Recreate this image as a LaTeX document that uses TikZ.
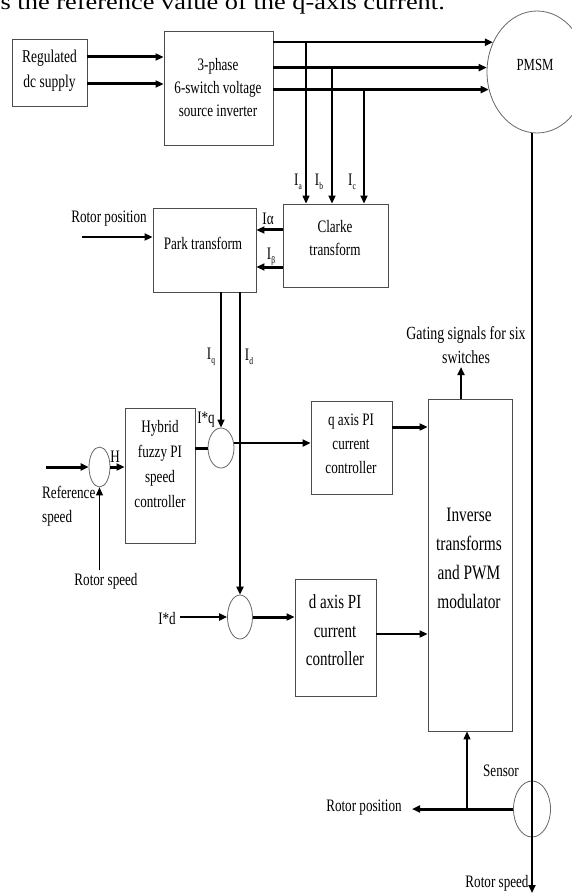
\documentclass[tikz,border=0pt]{standalone}
\usepackage{fontspec}
\setmainfont[FakeStretch=0.75]{Liberation Serif}
\newfontfamily\topfont[FakeStretch=1.2]{Liberation Serif}
\usetikzlibrary{arrows.meta,shapes.geometric}
\newcommand\fsz[2]{\fontsize{#1}{#2}\selectfont}
\newcommand\lsub[1]{\raisebox{-0.45ex}{\fontsize{10}{10}\selectfont #1}}
\begin{document}
\begin{tikzpicture}[x=1pt,y=-1pt,
  box/.style={draw=black!70, line width=0.9pt, rectangle, inner sep=0},
  sumc/.style={draw=black!60, line width=0.8pt, ellipse, inner sep=0},
  txt/.style={inner sep=0, align=center, font=\fsz{17.5}{24}},
  tip/.style={-{Triangle[length=8pt,width=7pt]}},
  heavy/.style={line width=3pt},
  med/.style={line width=2pt},
  thinl/.style={line width=1.3pt},
]
\useasboundingbox (0,0) rectangle (572,893);
\clip (0,0) rectangle (572,893);

% top caption fragment
\node[inner sep=0, anchor=base east, font=\topfont\fsz{22}{22}] (cap) at (445,10) {s the reference value of the q-axis current.};

% boxes
\node[box, minimum width=75pt, minimum height=67pt] (reg) at (49.5,72.5) {};
\node[txt, font=\fsz{18}{25}] (regt) at (49.5,70.5) {Regulated\\dc supply};
\node[box, minimum width=109pt, minimum height=114pt] (inv) at (218.5,88) {};
\node[txt, font=\fsz{17.5}{23}] (invt) at (218,88) {3-phase\\6-switch voltage\\source inverter};
\node[sumc, minimum width=100pt, minimum height=122pt] (pmsm) at (537,72) {};
\node[txt, font=\fsz{17}{20}] (pmsmt) at (535,65) {PMSM};
\node[box, minimum width=105pt, minimum height=83pt] (clarke) at (335.5,245.5) {};
\node[txt, font=\fsz{17.5}{23}] (clarket) at (335,238.5) {Clarke\\transform};
\node[box, minimum width=103pt, minimum height=84pt] (park) at (204.5,250) {};
\node[txt] (parkt) at (203,243) {Park transform};
\node[box, minimum width=70pt, minimum height=135pt] (hybrid) at (160,475.5) {};
\node[txt, font=\fsz{17.5}{24.7}] (hybridt) at (160,464) {Hybrid\\fuzzy PI\\speed\\controller};
\node[box, minimum width=81pt, minimum height=93pt] (qpi) at (351.5,447.5) {};
\node[txt] (qpit) at (351,444) {q axis PI\\current\\controller};
\node[box, minimum width=81pt, minimum height=117pt] (dpi) at (335.5,637.5) {};
\node[txt, font=\fsz{20}{28.5}] (dpit) at (335,630.5) {d axis PI\\current\\controller};
\node[box, minimum width=84pt, minimum height=332pt] (itr) at (470,565) {};
\node[txt, font=\fsz{20.5}{29}] (itrt) at (469,558.5) {Inverse\\transforms\\and PWM\\modulator};

% summing junctions and sensor
\node[sumc, minimum width=26pt, minimum height=40pt] (qsum) at (221,448) {};
\node[sumc, minimum width=21pt, minimum height=40pt] (hsum) at (99.5,467) {};
\node[sumc, minimum width=25pt, minimum height=44pt] (dsum) at (240,617) {};
\node[sumc, minimum width=37pt, minimum height=56pt] (sensor) at (532,809) {};

% free ends
\coordinate (rpin) at (82,237);
\coordinate (gt) at (461,367);
\coordinate (refin) at (46,467);
\coordinate (rsin) at (99.5,570);
\coordinate (idin) at (180,617);
\coordinate (rsout) at (532,893);
\coordinate (rpout) at (412,809);

% supply to inverter
\draw[heavy,tip] ([yshift=15.5pt]reg.east) -- ([yshift=15.5pt]reg.east -| inv.west);
\draw[heavy,tip] ([yshift=-11.5pt]reg.east) -- ([yshift=-11.5pt]reg.east -| inv.west);

% inverter to PMSM
\draw[med,tip] (pmsm.146.6 -| inv.east) -- (pmsm.146.6);
\draw[heavy,tip] (pmsm.175.4 -| inv.east) -- (pmsm.175.4);
\draw[heavy,tip] (pmsm.200.6 -| inv.east) -- (pmsm.200.6);

% current taps
\coordinate (ta) at ([xshift=-29.5pt]clarke.north);
\coordinate (tb) at ([xshift=-3.5pt]clarke.north);
\coordinate (tc) at ([xshift=28.5pt]clarke.north);
\draw[thinl,tip] (ta |- pmsm.146.6) -- (ta);
\draw[line width=2.6pt,tip] (tb |- pmsm.175.4) -- (tb);
\draw[line width=1.8pt,tip] (tc |- pmsm.200.6) -- (tc);
\node[txt] (ia) at (298,182) {I\lsub{a}};
\node[txt] (ib) at (319,182) {I\lsub{b}};
\node[txt] (ic) at (352,182) {I\lsub{c}};

% Clarke to Park
\coordinate (ca) at ([yshift=15.5pt]clarke.west);
\coordinate (cb) at ([yshift=-21.5pt]clarke.west);
\draw[heavy,tip] (ca) -- (ca -| park.east);
\draw[heavy,tip] (cb) -- (cb -| park.east);
\node[txt] (ial) at (268,219) {Iα};
\node[txt] (ibe) at (271,257) {I\lsub{β}};

% rotor position into Park
\draw[line width=2.5pt,tip] (rpin) -- (rpin -| park.west);
\node[txt] (rpl) at (109,219) {Rotor position};

% Park outputs
\draw[thinl,tip] (qsum.north |- park.south) -- (qsum.north);
\draw[line width=2.6pt,tip] (dsum.north |- park.south) -- (dsum.north);
\node[txt] (iql) at (211,357) {I\lsub{q}};
\node[txt] (idl) at (249,357) {I\lsub{d}};

% speed loop
\draw[heavy,tip] (refin) -- (hsum.west);
\draw[heavy,tip] (hsum.east) -- (hsum.east -| hybrid.west);
\draw[line width=1pt,tip] (rsin) -- (hsum.south);
\node[txt, align=left, anchor=west] (refl) at (42,506.5) {Reference\\speed};
\node[txt] (hl) at (115,457) {H};
\node[txt] (rsl) at (106,581) {Rotor speed};
\draw[heavy] (qsum.west -| hybrid.east) -- (qsum.west);
\node[txt] (iqs) at (206,420) {I*q};

% q path
\draw[med,tip] (qsum.21.6) -- (qsum.21.6 -| qpi.west);
\coordinate (qo) at ([yshift=20.5pt]qpi.east);
\draw[heavy,tip] (qo) -- (qo -| itr.west);

% gating signals
\draw[med,tip] (gt |- itr.north) -- (gt);
\node[txt, font=\fsz{18.5}{24}] (gl) at (466,345) {Gating signals for six\\switches};

% d path
\draw[med,tip] (idin) -- (dsum.west);
\node[txt] (idsl) at (167,619) {I*d};
\draw[heavy,tip] (dsum.east) -- (dsum.east -| dpi.west);
\coordinate (dout) at ([yshift=3.5pt]dpi.east);
\draw[med,tip] (dout) -- (dout -| itr.west);

% sensor and shaft
\draw[med,tip] (rsout |- pmsm.south) -- (rsout);
\draw[heavy,tip] (sensor.west) -- (rpout);
\coordinate (ju) at ([xshift=-3pt]itr.south);
\draw[thinl,tip] (ju |- sensor.west) -- (ju);
\node[txt] (senl) at (501,771) {Sensor};
\node[txt] (rpo) at (364,808) {Rotor position};
\node[txt] (rso) at (497,883) {Rotor speed};
\end{tikzpicture}
\end{document}
